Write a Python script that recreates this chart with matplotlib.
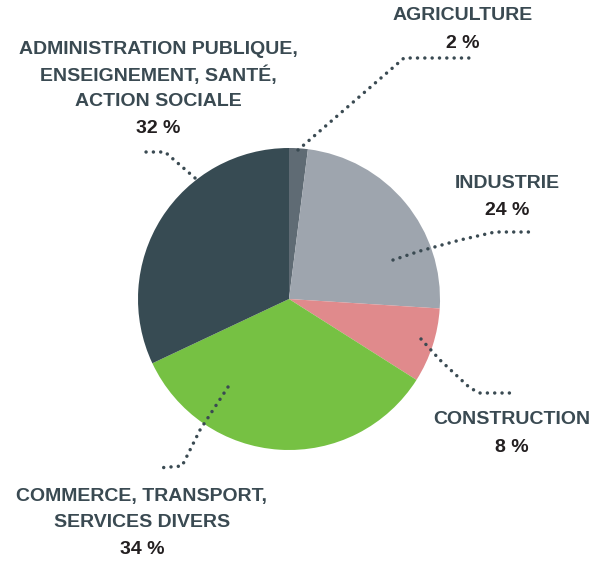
import matplotlib.pyplot as plt
from matplotlib import font_manager

# données du graphique
secteurs = ['AGRICULTURE', 'INDUSTRIE', 'CONSTRUCTION',
            'COMMERCE, TRANSPORT,\nSERVICES DIVERS',
            'ADMINISTRATION PUBLIQUE,\nENSEIGNEMENT, SANTÉ,\nACTION SOCIALE']
parts = [2, 24, 8, 34, 32]
couleurs = ['#5f6b74', '#9ea5ae', '#e08a8c', '#76c143', '#374b53']

W, H = 594, 562
names = {f.name for f in font_manager.fontManager.ttflist}
famille = ['Liberation Sans Narrow', 'DejaVu Sans'] if 'Liberation Sans Narrow' in names else ['Liberation Sans', 'DejaVu Sans']
plt.rcParams['font.family'] = famille

fig = plt.figure(figsize=(W / 100, H / 100), dpi=100)
ax = fig.add_axes([0, 0, 1, 1])

def yy(y):
    return H - y

ax.pie(parts, colors=couleurs, startangle=90, counterclock=False,
       center=(289, yy(299)), radius=151, frame=True,
       wedgeprops=dict(linewidth=0))
ax.set_xlim(0, W)
ax.set_ylim(0, H)
ax.set_aspect('equal')
ax.axis('off')

lead_col = '#3a4a52'
# lignes de rappel en pointillés (coordonnées en pixels de l'image)
leaders = [
    [(298, 150), (404, 58), (473, 58)],
    [(393, 260), (420, 251), (460, 240), (495, 232), (533, 232)],
    [(421, 339), (440, 360), (470, 388), (480, 393), (516, 393)],
    [(228, 387), (200, 430), (182, 466), (158, 468)],
    [(195, 178), (165, 152), (140, 152)],
]
for pts in leaders:
    xs = [p[0] for p in pts]
    ys = [yy(p[1]) for p in pts]
    ax.plot(xs, ys, color=lead_col, linewidth=2.5,
            linestyle=(0, (0.01, 2.1)), dash_capstyle='round', solid_joinstyle='round')

# étiquettes
label_pos = [(463, 16), (507, 183), (512, 420), (142, 497), (158, 50)]
label_col = '#3a4a52'
pct_col = '#231f20'
for nom, p, (x, y) in zip(secteurs, parts, label_pos):
    lignes = nom.split('\n')
    for i, l in enumerate(lignes):
        ax.text(x, yy(y + i * 25.5), l, ha='center', va='center',
                fontsize=14, fontweight='bold', color=label_col)
    ax.text(x, yy(y + len(lignes) * 25.5 + 2), f'{p} %', ha='center', va='center',
            fontsize=14, fontweight='bold', color=pct_col)

fig.savefig('out.png', dpi=100)
